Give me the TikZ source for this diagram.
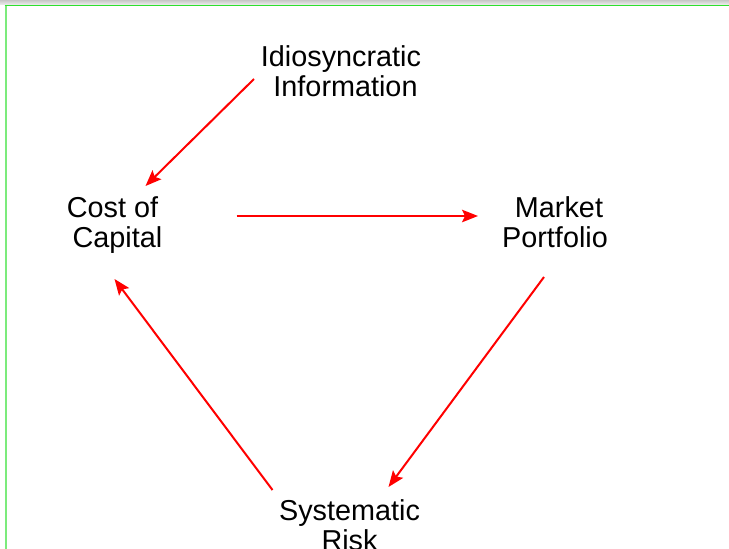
\documentclass[tikz,border=0pt]{standalone}
\usepackage{fontspec}
\setmainfont{Liberation Sans}
\usetikzlibrary{arrows.meta,calc}
\definecolor{frameG}{HTML}{2EE02E}
\definecolor{frameGL}{HTML}{7CEB7C}
\definecolor{arrRed}{HTML}{FF0000}
\tikzset{
  lbl/.style={align=center,inner sep=0pt,font=\fontsize{28.8}{30}\selectfont},
  arr/.style={draw=arrRed,line width=2pt,-{Stealth[length=16pt,width=12.5pt,inset=3pt]}}
}
\begin{document}
\begin{tikzpicture}[x=1pt,y=-1pt]
\useasboundingbox (0,0) rectangle (729,549);
\fill[white] (0,0) rectangle (729,549);
\shade[top color=black!22,bottom color=black!8] (0,0) rectangle (729,4.5);
\draw[frameGL,line width=2pt] (5.5,5) -- (5.5,549);
\draw[frameG,line width=1.6pt] (4.5,5.5) -- (729,5.5);
\node[lbl] (idio) at (341,75) {\strut Idiosyncratic\\\strut\hspace*{9pt}Information};
\node[lbl] (cost) at (114.5,226) {\strut Cost of\hspace*{4pt}\\\strut\hspace*{6pt}Capital};
\node[lbl] (market) at (555,226) {\strut\hspace*{8pt}Market\\\strut Portfolio};
\node[lbl] (sys) at (349.5,529) {\strut Systematic\\\strut Risk};
\draw[arr] ($(idio)+(-87,4)$) -- ($(cost)+(31,-40)$);
\draw[arr] ($(cost)+(122,-10)$) -- ($(market)+(-77,-10)$);
\draw[arr] ($(market)+(-11,51)$) -- ($(sys)+(39,-42)$);
\draw[arr] ($(sys)+(-77,-39)$) -- ($(cost)+(0,53)$);
\end{tikzpicture}
\end{document}
